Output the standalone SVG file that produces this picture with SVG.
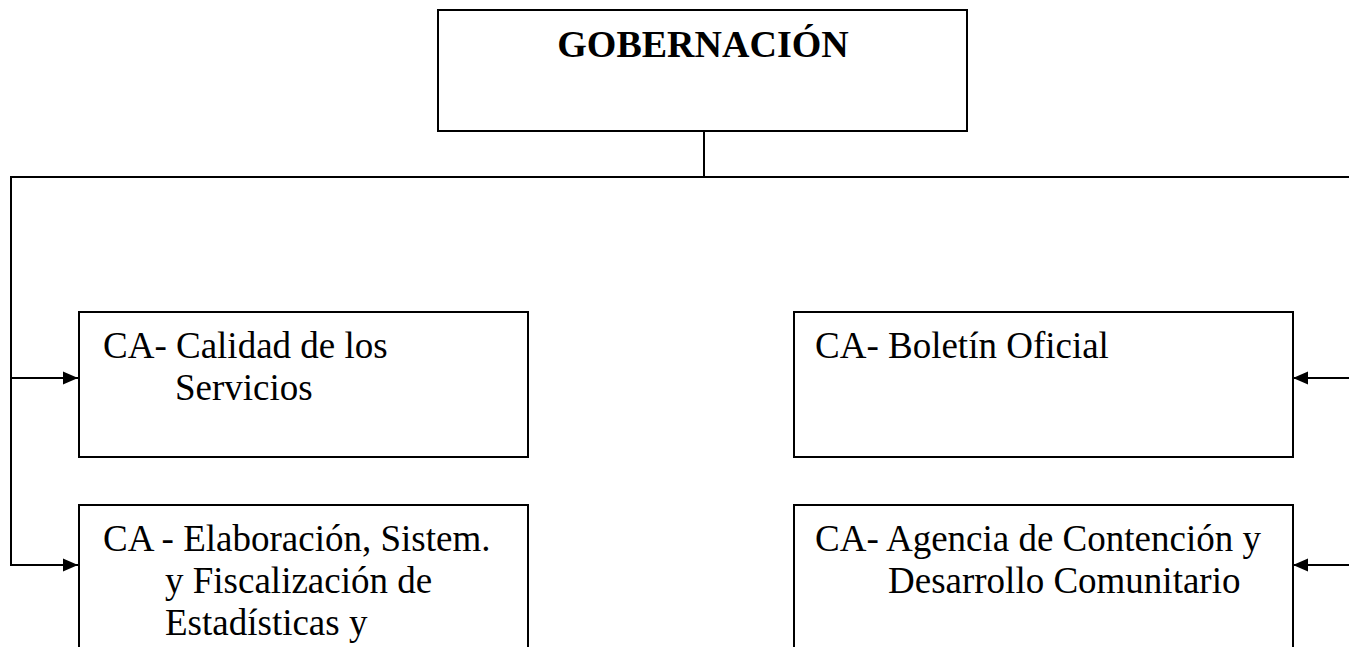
<svg xmlns="http://www.w3.org/2000/svg" width="1349" height="647" viewBox="0 0 1349 647">
<style>
.box{fill:#fff;stroke:#000;stroke-width:2}
.t{font-family:"Liberation Serif","Times New Roman",serif;font-size:37px;fill:#000}
.b{font-weight:bold;font-size:38px}
.ln{fill:none;stroke:#000;stroke-width:2}
</style>
<defs>
<marker id="ah" markerWidth="16" markerHeight="14" refX="15" refY="7" orient="auto" markerUnits="userSpaceOnUse">
<path d="M0,0.5 L15,7 L0,13.5 Z" fill="#000"/>
</marker>
</defs>
<rect width="1349" height="647" fill="#fff"/>
<g id="connectors">
<path class="ln" d="M704,131 V177"/>
<path class="ln" d="M11,177 H1349"/>
<path class="ln" d="M11,176 V566"/>
<path class="ln" d="M11,378 H78" marker-end="url(#ah)"/>
<path class="ln" d="M11,565 H78" marker-end="url(#ah)"/>
<path class="ln" d="M1349,378 H1293" marker-end="url(#ah)"/>
<path class="ln" d="M1349,565 H1293" marker-end="url(#ah)"/>
</g>
<g id="gobernacion">
<rect class="box" x="438" y="10" width="529" height="121"/>
<text class="t b" x="703" y="57" text-anchor="middle">GOBERNACIÓN</text>
</g>
<g id="calidad">
<rect class="box" x="79" y="312" width="449" height="145"/>
<text class="t" x="103" y="358">CA- Calidad de los</text>
<text class="t" x="175" y="400">Servicios</text>
</g>
<g id="boletin">
<rect class="box" x="794" y="312" width="499" height="145"/>
<text class="t" x="815" y="358">CA- Boletín Oficial</text>
</g>
<g id="estadisticas">
<rect class="box" x="79" y="505" width="449" height="160"/>
<text class="t" x="103" y="551">CA - Elaboración, Sistem.</text>
<text class="t" x="165" y="593">y Fiscalización de</text>
<text class="t" x="165" y="635">Estadísticas y</text>
</g>
<g id="agencia">
<rect class="box" x="794" y="505" width="499" height="160"/>
<text class="t" x="815" y="551">CA- Agencia de Contención y</text>
<text class="t" x="888" y="593">Desarrollo Comunitario</text>
</g>
</svg>
